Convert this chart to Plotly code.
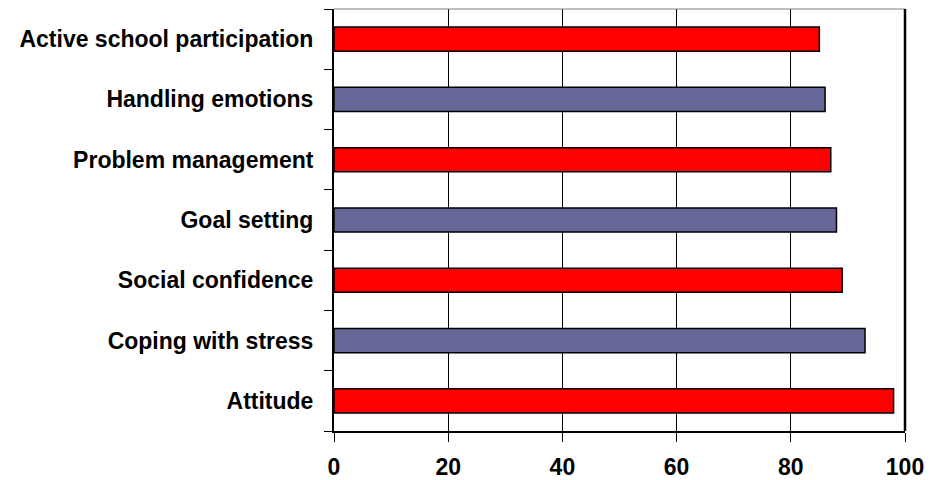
import plotly.graph_objects as go

# Skill areas listed bottom to top, with their scores (%)
categories = [
    "Attitude",
    "Coping with stress",
    "Social confidence",
    "Goal setting",
    "Problem management",
    "Handling emotions",
    "Active school participation",
]
scores = [98, 93, 89, 88, 87, 86, 85]
bar_colors = ["#FF0000", "#666699", "#FF0000", "#666699", "#FF0000", "#666699", "#FF0000"]
x_ticks = [0, 20, 40, 60, 80, 100]

font_family = "Liberation Sans, Arial, sans-serif"

fig = go.Figure(
    go.Bar(
        x=scores,
        y=categories,
        orientation="h",
        width=0.4,
        marker=dict(color=bar_colors, line=dict(color="black", width=1.5)),
        hoverinfo="x+y",
    )
)

fig.update_layout(
    width=944,
    height=480,
    autosize=False,
    margin=dict(l=334, r=39, t=9, b=49),
    paper_bgcolor="white",
    plot_bgcolor="white",
    showlegend=False,
    font=dict(family=font_family, color="black"),
    xaxis=dict(
        range=[0, 100],
        tickvals=x_ticks,
        ticktext=[str(v) for v in x_ticks],
        showgrid=True,
        gridcolor="black",
        gridwidth=1,
        zeroline=False,
        showline=True,
        linecolor="black",
        linewidth=2,
        ticks="outside",
        ticklen=9,
        tickwidth=1,
        tickcolor="black",
        ticklabelstandoff=5,
        automargin=False,
        tickfont=dict(family=font_family, size=23, color="black", weight="bold"),
    ),
    yaxis=dict(
        type="category",
        categoryorder="array",
        categoryarray=categories,
        range=[-0.5, len(categories) - 0.5],
        showgrid=False,
        zeroline=False,
        showline=True,
        linecolor="black",
        linewidth=2,
        ticks="outside",
        tickson="boundaries",
        ticklen=8,
        tickwidth=1,
        tickcolor="black",
        ticklabelstandoff=14,
        automargin=False,
        tickfont=dict(family=font_family, size=23, color="black", weight="bold"),
    ),
    shapes=[
        # top edge of the frame (thin grey)
        dict(type="line", xref="paper", yref="paper", x0=0, x1=1, y0=1, y1=1,
             line=dict(color="#808080", width=1)),
        # right edge of the frame (thick black)
        dict(type="line", xref="paper", yref="paper", x0=1, x1=1, y0=0, y1=1,
             line=dict(color="black", width=2.5)),
    ],
)

fig.write_html("out.html")
